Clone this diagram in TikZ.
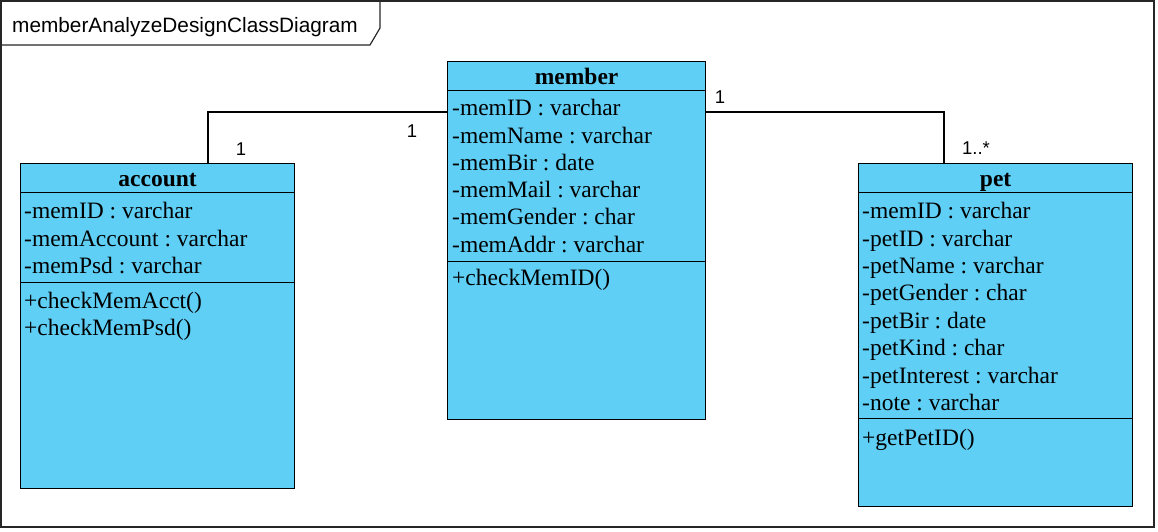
\documentclass[tikz,border=0pt]{standalone}
\usepackage{fontspec}
\setmainfont{Liberation Serif}
\setsansfont{Liberation Sans}
\usepackage{tikz}
\definecolor{clsblue}{RGB}{95, 207, 246}
\frenchspacing

\begin{document}
\begin{tikzpicture}[
  clsbox/.style={anchor=north west, draw=black, fill=clsblue, line width=1.2pt, inner sep=0pt},
  clshead/.style={clsbox, minimum height=29pt, font=\bfseries\fontsize{23.5}{27}\selectfont, text height=17pt, text depth=0pt},
  attr/.style={anchor=base west, inner sep=0pt, font=\fontsize{23.5}{27}\selectfont},
  mult/.style={anchor=base, inner sep=0pt, font=\sffamily\fontsize{18.5}{18}\selectfont},
  assoc/.style={line width=1.2pt, color=black}]
\useasboundingbox (0pt, 0pt) rectangle (1158pt, -532pt);
% frame
\draw [line width=1.5pt, color=black!85] (1pt, -1pt) rectangle (1154pt, -527pt);
\draw [line width=1.2pt, color=black!85] (1pt, -45pt) -- (370pt, -45pt) -- (380pt, -28pt) -- (380pt, -1pt);
\node (title) [anchor=base west, inner sep=0pt, font=\sffamily\fontsize{20.8}{22}\selectfont] at (12pt, -33pt) {memberAnalyzeDesignClassDiagram};

% account
\node (accName) [clshead, minimum width=274pt] at (20pt, -163pt) {account};
\node (accAttr) [clsbox, minimum width=274pt, minimum height=90pt] at (20pt, -192pt) {};
\node (accOper) [clsbox, minimum width=274pt, minimum height=206pt] at (20pt, -282pt) {};
\node (accA1) [attr] at (24pt, -218.5pt) {-memID : varchar};
\node (accA2) [attr] at (24pt, -246pt) {-memAccount : varchar};
\node (accA3) [attr] at (24pt, -273.4pt) {-memPsd : varchar};
\node (accO1) [attr] at (24pt, -308pt) {+checkMemAcct()};
\node (accO2) [attr] at (24pt, -335.4pt) {+checkMemPsd()};

% member
\node (memName) [clshead, minimum width=258pt] at (447pt, -61pt) {member};
\node (memAttr) [clsbox, minimum width=258pt, minimum height=171pt] at (447pt, -90pt) {};
\node (memOper) [clsbox, minimum width=258pt, minimum height=158pt] at (447pt, -261pt) {};
\node (memA1) [attr] at (452pt, -116pt) {-memID : varchar};
\node (memA2) [attr] at (452pt, -143.2pt) {-memName : varchar};
\node (memA3) [attr] at (452pt, -170.4pt) {-memBir : date};
\node (memA4) [attr] at (452pt, -197.6pt) {-memMail : varchar};
\node (memA5) [attr] at (452pt, -224.8pt) {-memGender : char};
\node (memA6) [attr] at (452pt, -252pt) {-memAddr : varchar};
\node (memO1) [attr] at (452pt, -285pt) {+checkMemID()};

% pet
\node (petName) [clshead, minimum width=274pt] at (858pt, -163pt) {pet};
\node (petAttr) [clsbox, minimum width=274pt, minimum height=226pt] at (858pt, -192pt) {};
\node (petOper) [clsbox, minimum width=274pt, minimum height=88pt] at (858pt, -418pt) {};
\node (petA1) [attr] at (862pt, -218.5pt) {-memID : varchar};
\node (petA2) [attr] at (862pt, -246pt) {-petID : varchar};
\node (petA3) [attr] at (862pt, -273.4pt) {-petName : varchar};
\node (petA4) [attr] at (862pt, -300.8pt) {-petGender : char};
\node (petA5) [attr] at (862pt, -328.2pt) {-petBir : date};
\node (petA6) [attr] at (862pt, -355.6pt) {-petKind : char};
\node (petA7) [attr] at (862pt, -383pt) {-petInterest : varchar};
\node (petA8) [attr] at (862pt, -410.4pt) {-note : varchar};
\node (petO1) [attr] at (862pt, -445pt) {+getPetID()};

% associations
\draw [assoc] ([xshift=188pt]accName.north west) |- ([yshift=-22pt]memAttr.north west);
\draw [assoc] ([yshift=-22pt]memAttr.north east) -| ([xshift=86pt]petName.north west);
\node (multAcc) [mult] at (241pt, -155pt) {1};
\node (multMemL) [mult] at (412pt, -137.5pt) {1};
\node (multMemR) [mult] at (720pt, -103pt) {1};
\node (multPet) [mult] at (976pt, -154pt) {1..*};
\end{tikzpicture}
\end{document}
